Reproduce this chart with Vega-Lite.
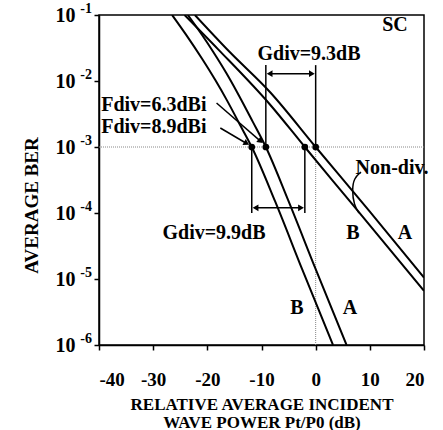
{
  "$schema": "https://vega.github.io/schema/vega-lite/v6.json",
  "width": 325,
  "height": 330,
  "autosize": {"type": "none"},
  "padding": {"left": 99, "top": 15, "right": 19, "bottom": 85},
  "background": "white",
  "config": {
    "view": {"stroke": "black", "strokeWidth": 1.5},
    "font": "Liberation Serif",
    "axis": {
      "grid": false,
      "domainColor": "black",
      "domainWidth": 1.5,
      "tickColor": "black",
      "tickWidth": 1.5,
      "tickSize": 5,
      "labelColor": "black",
      "labelFont": "Liberation Serif",
      "labelFontWeight": "bold",
      "labelFontSize": 19,
      "titleColor": "black",
      "titleFont": "Liberation Serif",
      "titleFontWeight": "bold",
      "titleFontSize": 19
    }
  },
  "datasets": {
    "curves": [
      {"s": "divB", "x": -26.5, "y": 0.1},
      {"s": "divB", "x": -24, "y": 0.0513},
      {"s": "divB", "x": -21, "y": 0.0219},
      {"s": "divB", "x": -18.5, "y": 0.01023},
      {"s": "divB", "x": -16.4, "y": 0.00513},
      {"s": "divB", "x": -14, "y": 0.00219},
      {"s": "divB", "x": -11.8, "y": 0.001},
      {"s": "divB", "x": -7.5, "y": 0.000151},
      {"s": "divB", "x": -2.5, "y": 0.0000141},
      {"s": "divB", "x": 3.2, "y": 0.000001},
      {"s": "divA", "x": -23.6, "y": 0.1},
      {"s": "divA", "x": -21, "y": 0.0501},
      {"s": "divA", "x": -18.9, "y": 0.0275},
      {"s": "divA", "x": -16.5, "y": 0.0132},
      {"s": "divA", "x": -14.5, "y": 0.00676},
      {"s": "divA", "x": -11.6, "y": 0.0024},
      {"s": "divA", "x": -9.2, "y": 0.001},
      {"s": "divA", "x": -5.1, "y": 0.000158},
      {"s": "divA", "x": 0, "y": 0.0000141},
      {"s": "divA", "x": 5.7, "y": 0.000001},
      {"s": "nonA", "x": -22.3, "y": 0.1},
      {"s": "nonA", "x": -16, "y": 0.0282},
      {"s": "nonA", "x": -8.4, "y": 0.00676},
      {"s": "nonA", "x": 0, "y": 0.001},
      {"s": "nonA", "x": 10, "y": 0.000105},
      {"s": "nonA", "x": 20, "y": 0.0000105},
      {"s": "nonB", "x": -24.2, "y": 0.1},
      {"s": "nonB", "x": -18, "y": 0.0302},
      {"s": "nonB", "x": -8.4, "y": 0.00437},
      {"s": "nonB", "x": -2, "y": 0.001},
      {"s": "nonB", "x": 6.3, "y": 0.000151},
      {"s": "nonB", "x": 20, "y": 0.00000661}
    ],
    "brace": [
      {"o": 1, "x": 8.37, "y": 0.000418},
      {"o": 2, "x": 7.08, "y": 0.000339},
      {"o": 3, "x": 6.71, "y": 0.000223},
      {"o": 4, "x": 7.08, "y": 0.000132},
      {"o": 5, "x": 8.0, "y": 0.0001}
    ],
    "exps": [
      {"y": 0.1, "e": "-1"},
      {"y": 0.01, "e": "-2"},
      {"y": 0.001, "e": "-3"},
      {"y": 0.0001, "e": "-4"},
      {"y": 0.00001, "e": "-5"},
      {"y": 0.000001, "e": "-6"}
    ],
    "dots": [
      {"x": -11.8, "y": 0.001},
      {"x": -9.2, "y": 0.001},
      {"x": -2, "y": 0.001},
      {"x": 0, "y": 0.001}
    ],
    "vlines": [
      {"x": -9.2, "y": 0.001, "y2": 0.0174},
      {"x": 0, "y": 0.001, "y2": 0.0174},
      {"x": -11.8, "y": 0.001, "y2": 0.0001},
      {"x": -2, "y": 0.001, "y2": 0.0001}
    ],
    "hlines": [
      {"x": -8.6, "x2": -0.6, "y": 0.0129},
      {"x": -11.2, "x2": -2.6, "y": 0.00012}
    ],
    "headsL": [
      {"x": -8.5, "y": 0.0129},
      {"x": -11.1, "y": 0.00012}
    ],
    "headsR": [
      {"x": -0.7, "y": 0.0129},
      {"x": -2.7, "y": 0.00012}
    ],
    "diag": [
      {"x": -18.3, "y": 0.00464, "x2": -10.3, "y2": 0.00125},
      {"x": -17.6, "y": 0.00194, "x2": -12.9, "y2": 0.00115}
    ],
    "diagHeads": [
      {"x": -10.3, "y": 0.00125, "a": 130},
      {"x": -12.9, "y": 0.00115, "a": 119}
    ],
    "labelsC": [
      {"x": 14.65, "y": 0.0708, "t": "SC"},
      {"x": -1.23, "y": 0.0257, "t": "Gdiv=9.3dB"},
      {"x": 14.09, "y": 0.000481, "t": "Non-div."},
      {"x": 6.89, "y": 0.0000497, "t": "B"},
      {"x": 16.49, "y": 0.0000497, "t": "A"},
      {"x": -3.45, "y": 0.00000363, "t": "B"},
      {"x": 6.34, "y": 0.00000363, "t": "A"},
      {"x": -18.77, "y": 0.0000497, "t": "Gdiv=9.9dB"}
    ],
    "labelsL": [
      {"x": -39.6, "y": 0.00433, "t": "Fdiv=6.3dBi"},
      {"x": -39.6, "y": 0.00201, "t": "Fdiv=8.9dBi"}
    ]
  },
  "layer": [
    {
      "data": {"values": [{"y": 0.001}]},
      "mark": {"type": "rule", "color": "#888888", "strokeDash": [1, 1], "strokeWidth": 1},
      "encoding": {
        "y": {"field": "y", "type": "quantitative"}
      }
    },
    {
      "data": {"values": [{"x": 0, "y": 0.000001, "y2": 0.001}]},
      "mark": {"type": "rule", "color": "#888888", "strokeDash": [1, 1], "strokeWidth": 1},
      "encoding": {
        "x": {"field": "x", "type": "quantitative"},
        "y": {"field": "y", "type": "quantitative"},
        "y2": {"field": "y2"}
      }
    },
    {
      "data": {"name": "curves"},
      "mark": {"type": "line", "color": "black", "strokeWidth": 2, "interpolate": "monotone", "clip": true},
      "encoding": {
        "x": {
          "field": "x", "type": "quantitative",
          "scale": {"domain": [-40, 20], "nice": false, "zero": false},
          "axis": {
            "values": [-40, -30, -20, -10, 0, 10, 20],
            "labelExpr": "datum.value + ''",
            "labelPadding": 20,
            "title": ["RELATIVE AVERAGE INCIDENT", "WAVE POWER Pt/P0 (dB)"],
            "titleFontSize": 17,
            "titleLineHeight": 18,
            "titlePadding": 7
          }
        },
        "y": {
          "field": "y", "type": "quantitative",
          "scale": {"type": "log", "domain": [0.000001, 0.1], "nice": false},
          "axis": {
            "values": [0.1, 0.01, 0.001, 0.0001, 0.00001, 0.000001],
            "labelExpr": "'10'",
            "labelFontSize": 20,
            "labelPadding": 19,
            "title": "AVERAGE BER",
            "titlePadding": 14,
            "titleY": 190
          }
        },
        "detail": {"field": "s"}
      }
    },
    {
      "data": {"name": "exps"},
      "mark": {"type": "text", "font": "Liberation Serif", "fontWeight": "bold", "fontSize": 14, "color": "black", "align": "right", "baseline": "middle", "dx": -7, "dy": -6, "clip": false},
      "encoding": {
        "x": {"datum": -40, "type": "quantitative"},
        "y": {"field": "y", "type": "quantitative"},
        "text": {"field": "e"}
      }
    },
    {
      "data": {"name": "brace"},
      "mark": {"type": "line", "color": "black", "strokeWidth": 1.5, "interpolate": "basis"},
      "encoding": {
        "x": {"field": "x", "type": "quantitative"},
        "y": {"field": "y", "type": "quantitative"},
        "order": {"field": "o"}
      }
    },
    {
      "data": {"name": "vlines"},
      "mark": {"type": "rule", "color": "black", "strokeWidth": 1.5},
      "encoding": {
        "x": {"field": "x", "type": "quantitative"},
        "y": {"field": "y", "type": "quantitative"},
        "y2": {"field": "y2"}
      }
    },
    {
      "data": {"name": "hlines"},
      "mark": {"type": "rule", "color": "black", "strokeWidth": 1.5},
      "encoding": {
        "x": {"field": "x", "type": "quantitative"},
        "x2": {"field": "x2"},
        "y": {"field": "y", "type": "quantitative"}
      }
    },
    {
      "data": {"name": "headsL"},
      "mark": {"type": "point", "shape": "triangle-left", "filled": true, "color": "black", "size": 45, "opacity": 1},
      "encoding": {
        "x": {"field": "x", "type": "quantitative"},
        "y": {"field": "y", "type": "quantitative"}
      }
    },
    {
      "data": {"name": "headsR"},
      "mark": {"type": "point", "shape": "triangle-right", "filled": true, "color": "black", "size": 45, "opacity": 1},
      "encoding": {
        "x": {"field": "x", "type": "quantitative"},
        "y": {"field": "y", "type": "quantitative"}
      }
    },
    {
      "data": {"name": "diag"},
      "mark": {"type": "rule", "color": "black", "strokeWidth": 1.5},
      "encoding": {
        "x": {"field": "x", "type": "quantitative"},
        "x2": {"field": "x2"},
        "y": {"field": "y", "type": "quantitative"},
        "y2": {"field": "y2"}
      }
    },
    {
      "data": {"name": "diagHeads"},
      "mark": {"type": "point", "shape": "triangle", "filled": true, "color": "black", "size": 45, "opacity": 1},
      "encoding": {
        "x": {"field": "x", "type": "quantitative"},
        "y": {"field": "y", "type": "quantitative"},
        "angle": {"field": "a", "type": "quantitative", "scale": null}
      }
    },
    {
      "data": {"name": "dots"},
      "mark": {"type": "point", "shape": "circle", "filled": true, "color": "black", "size": 45, "opacity": 1},
      "encoding": {
        "x": {"field": "x", "type": "quantitative"},
        "y": {"field": "y", "type": "quantitative"}
      }
    },
    {
      "data": {"name": "labelsC"},
      "mark": {"type": "text", "font": "Liberation Serif", "fontWeight": "bold", "fontSize": 20, "color": "black", "align": "center", "baseline": "middle"},
      "encoding": {
        "x": {"field": "x", "type": "quantitative"},
        "y": {"field": "y", "type": "quantitative"},
        "text": {"field": "t"}
      }
    },
    {
      "data": {"name": "labelsL"},
      "mark": {"type": "text", "font": "Liberation Serif", "fontWeight": "bold", "fontSize": 20, "color": "black", "align": "left", "baseline": "middle"},
      "encoding": {
        "x": {"field": "x", "type": "quantitative"},
        "y": {"field": "y", "type": "quantitative"},
        "text": {"field": "t"}
      }
    }
  ]
}
